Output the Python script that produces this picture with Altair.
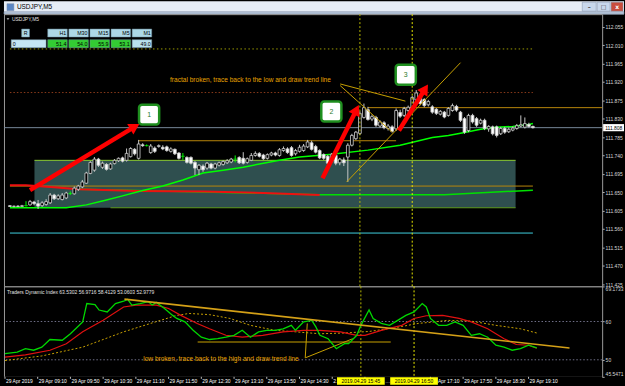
import math
import altair as alt
import pandas as pd

# ---------------- price data: USDJPY M5 bars, bar 0 = 08:30 ----------------
bar_index = list(range(131))
opens = [111.617, 111.615, 111.616, 111.615, 111.617, 111.619, 111.626, 111.622, 111.617, 111.620,
         111.624, 111.643, 111.634, 111.632, 111.636, 111.647, 111.646, 111.657, 111.663, 111.672,
         111.696, 111.704, 111.731, 111.711, 111.718, 111.707, 111.720, 111.727, 111.734, 111.728,
         111.737, 111.755, 111.733, 111.766, 111.764, 111.747, 111.758, 111.762, 111.760, 111.761,
         111.750, 111.755, 111.746, 111.738, 111.735, 111.735, 111.723, 111.705, 111.714, 111.709,
         111.719, 111.709, 111.716, 111.718, 111.722, 111.724, 111.731, 111.735, 111.733, 111.723,
         111.728, 111.740, 111.745, 111.741, 111.733, 111.741, 111.746, 111.740, 111.752, 111.756,
         111.759, 111.744, 111.750, 111.752, 111.761, 111.771, 111.762, 111.752, 111.742, 111.738,
         111.726, 111.740, 111.722, 111.729, 111.736, 111.765, 111.781, 111.794, 111.833, 111.852,
         111.829, 111.833, 111.812, 111.820, 111.806, 111.810, 111.805, 111.845, 111.838, 111.850,
         111.850, 111.876, 111.885, 111.877, 111.864, 111.859, 111.853, 111.841, 111.846, 111.838,
         111.850, 111.860, 111.846, 111.830, 111.801, 111.838, 111.830, 111.819, 111.826, 111.805,
         111.810, 111.810, 111.793, 111.806, 111.798, 111.802, 111.806, 111.812, 111.809, 111.816,
         111.811]
highs = [111.618, 111.617, 111.618, 111.619, 111.628, 111.631, 111.629, 111.631, 111.628, 111.633,
         111.648, 111.646, 111.645, 111.648, 111.651, 111.652, 111.664, 111.668, 111.680, 111.700,
         111.726, 111.736, 111.734, 111.725, 111.721, 111.722, 111.731, 111.735, 111.737, 111.757,
         111.760, 111.758, 111.778, 111.770, 111.767, 111.768, 111.762, 111.767, 111.765, 111.764,
         111.760, 111.757, 111.748, 111.746, 111.738, 111.738, 111.726, 111.719, 111.718, 111.724,
         111.722, 111.722, 111.725, 111.728, 111.731, 111.734, 111.740, 111.738, 111.748, 111.735,
         111.746, 111.750, 111.748, 111.744, 111.745, 111.749, 111.749, 111.758, 111.762, 111.760,
         111.763, 111.756, 111.766, 111.768, 111.778, 111.776, 111.766, 111.755, 111.745, 111.741,
         111.746, 111.743, 111.734, 111.735, 111.770, 111.793, 111.800, 111.848, 111.867, 111.859,
         111.840, 111.837, 111.826, 111.824, 111.817, 111.814, 111.855, 111.852, 111.859, 111.862,
         111.886, 111.900, 111.892, 111.880, 111.876, 111.863, 111.856, 111.851, 111.849, 111.858,
         111.867, 111.864, 111.849, 111.834, 111.842, 111.842, 111.834, 111.830, 111.830, 111.814,
         111.813, 111.813, 111.810, 111.810, 111.808, 111.811, 111.817, 111.838, 111.833, 111.820,
         111.813]
lows = [111.614, 111.613, 111.614, 111.614, 111.615, 111.617, 111.618, 111.609, 111.614, 111.617,
        111.621, 111.631, 111.631, 111.630, 111.633, 111.643, 111.644, 111.653, 111.660, 111.670,
        111.694, 111.700, 111.712, 111.707, 111.703, 111.705, 111.718, 111.724, 111.723, 111.725,
        111.735, 111.740, 111.730, 111.761, 111.762, 111.744, 111.746, 111.759, 111.753, 111.749,
        111.747, 111.741, 111.730, 111.729, 111.720, 111.718, 111.692, 111.692, 111.700, 111.705,
        111.706, 111.706, 111.713, 111.715, 111.719, 111.721, 111.723, 111.719, 111.718, 111.720,
        111.726, 111.737, 111.735, 111.729, 111.730, 111.738, 111.738, 111.737, 111.749, 111.744,
        111.737, 111.740, 111.747, 111.749, 111.758, 111.752, 111.745, 111.731, 111.729, 111.716,
        111.722, 111.716, 111.716, 111.714, 111.675, 111.762, 111.778, 111.790, 111.830, 111.825,
        111.824, 111.810, 111.808, 111.804, 111.801, 111.796, 111.800, 111.832, 111.834, 111.845,
        111.847, 111.872, 111.863, 111.858, 111.860, 111.842, 111.839, 111.838, 111.831, 111.835,
        111.847, 111.847, 111.822, 111.793, 111.797, 111.818, 111.810, 111.816, 111.802, 111.798,
        111.789, 111.784, 111.790, 111.793, 111.795, 111.799, 111.803, 111.809, 111.806, 111.808,
        111.806]
closes = [111.615, 111.616, 111.615, 111.617, 111.617, 111.627, 111.622, 111.616, 111.624, 111.627,
          111.643, 111.634, 111.641, 111.643, 111.648, 111.647, 111.660, 111.665, 111.675, 111.697,
          111.723, 111.731, 111.716, 111.721, 111.706, 111.719, 111.728, 111.733, 111.726, 111.745,
          111.757, 111.744, 111.768, 111.764, 111.764, 111.763, 111.750, 111.764, 111.756, 111.752,
          111.756, 111.744, 111.733, 111.738, 111.723, 111.721, 111.709, 111.716, 111.705, 111.721,
          111.709, 111.719, 111.722, 111.725, 111.727, 111.731, 111.731, 111.722, 111.721, 111.732,
          111.740, 111.745, 111.738, 111.732, 111.742, 111.746, 111.741, 111.754, 111.757, 111.747,
          111.740, 111.752, 111.760, 111.763, 111.773, 111.755, 111.748, 111.734, 111.733, 111.721,
          111.743, 111.721, 111.731, 111.722, 111.765, 111.789, 111.797, 111.843, 111.857, 111.828,
          111.835, 111.814, 111.822, 111.808, 111.812, 111.799, 111.850, 111.836, 111.855, 111.858,
          111.882, 111.893, 111.867, 111.862, 111.872, 111.846, 111.843, 111.848, 111.834, 111.855,
          111.862, 111.851, 111.826, 111.797, 111.838, 111.822, 111.814, 111.826, 111.806, 111.811,
          111.793, 111.789, 111.806, 111.797, 111.804, 111.807, 111.813, 111.815, 111.818, 111.811,
          111.808]

price_ticks = [112.055, 112.010, 111.965, 111.920, 111.875, 111.830, 111.785, 111.740,
               111.695, 111.650, 111.605, 111.560, 111.515, 111.470, 111.425]
last_price = 111.808

# moving averages on the price chart
fast_ma_bars = [0, 14, 19, 24, 28, 33, 38, 43, 48, 53, 58, 63, 67, 72, 80, 89, 97, 105, 109, 113, 117, 121, 125, 129, 130]
fast_ma_vals = [111.612, 111.612, 111.619, 111.631, 111.641, 111.654, 111.665, 111.680, 111.697, 111.704,
                111.711, 111.721, 111.728, 111.736, 111.743, 111.753, 111.765, 111.784, 111.789, 111.796,
                111.804, 111.809, 111.811, 111.816, 111.818]
slow_ma_bars = [17, 29, 77, 108, 130]
slow_ma_vals = [111.657, 111.655, 111.644, 111.644, 111.655]
red_ma_bars = [0, 4, 11, 17, 32, 48, 63, 77]
red_ma_vals = [111.667, 111.667, 111.662, 111.657, 111.653, 111.652, 111.648, 111.643]

# drawn objects on the price chart
box_from, box_to, box_low, box_high = 6.1, 125.7, 111.612, 111.728
box_bottom_from = 25
dotted_high_level = 112.0007
dotted_fractal_level = 111.894
support_level = 111.665
cyan_level = 111.550
upper_res_level, upper_res_from = 111.857, 89
mid_res_level, mid_res_from, mid_res_to = 111.776, 32, 96
lines_end = 130
vline_bars = [87, 100]

trend_from_bar = [82.1, 82.1, 83.7]
trend_from_price = [111.915, 111.911, 111.675]
trend_to_bar = [98.3, 95.0, 112.0]
trend_to_price = [111.873, 111.797, 111.967]

arrow_from_bar = [5.0, 77.7, 96.7]
arrow_from_price = [111.655, 111.684, 111.801]
arrow_to_bar = [32.3, 86.8, 104.0]
arrow_to_price = [111.818, 111.865, 111.915]

step_bars = [34.6, 79.9, 98.4]
step_prices = [111.840, 111.8475, 111.9375]
step_labels = ["1", "2", "3"]

note_top = "fractal broken, trace back to the low and draw trend line"
note_top_bar, note_top_price = 39.8, 111.9253

# multi-timeframe table
tf_names = ["H1", "M30", "M15", "M5", "M1"]
tf_values = ["51.4", "54.0", "55.9", "53.1", "49.0"]

# ---------------- Traders Dynamic Index ----------------
tdi_title = "Traders Dynamic Index 63.5302 56.9716 58.4129 53.0603 52.9779"
tdi_levels = [50, 60]
rsi_bars = [0, 3, 5, 7, 9, 11, 14, 16, 19, 20, 22, 23, 25, 27, 29, 30, 31, 33, 35, 36, 37, 39, 41, 42, 44,
            46, 48, 50, 52, 54, 56, 58, 60, 62, 64, 66, 68, 70, 71, 73, 75, 76, 77, 79, 81, 83, 84, 86, 87,
            89, 90, 92, 94, 96, 98, 100, 102, 103, 104, 106, 108, 110, 112, 114, 116, 118, 120, 122, 124,
            126, 128, 130]
rsi_vals = [51.6, 52.0, 52.9, 52.5, 53.3, 55.3, 55.1, 56.8, 59.9, 64.7, 64.4, 63.0, 62.5, 64.7, 65.3, 65.8,
            64.3, 64.7, 65.2, 64.3, 65.0, 63.4, 61.6, 60.8, 59.9, 57.7, 55.9, 55.3, 55.5, 55.9, 56.4, 57.7,
            55.9, 57.3, 57.7, 57.7, 58.1, 59.0, 57.7, 59.9, 60.3, 58.6, 56.4, 55.5, 52.9, 54.2, 54.2, 56.4,
            59.0, 63.0, 60.8, 59.5, 59.0, 60.3, 61.6, 62.5, 64.7, 63.8, 60.8, 59.0, 59.0, 59.9, 59.0, 56.4,
            56.8, 55.9, 53.8, 53.3, 52.5, 52.9, 53.8, 53.1]
signal_bars = [0, 5, 11, 15, 19, 24, 29, 32, 37, 40, 43, 47, 50, 54, 58, 63, 68, 73, 77, 82, 86, 88, 92,
               97, 100, 103, 107, 111, 114, 118, 122, 125, 128, 130]
signal_vals = [50.7, 51.3, 52.5, 54.2, 57.3, 60.3, 63.8, 64.3, 64.3, 63.4, 61.6, 59.5, 58.1, 56.4, 55.9,
               56.4, 57.3, 57.7, 57.7, 57.3, 56.4, 56.4, 57.7, 59.0, 60.8, 61.5, 61.6, 60.8, 59.9, 58.1,
               55.5, 54.0, 53.8, 53.0]
base_bars = [0, 9, 19, 29, 38, 42, 45, 50, 55, 60, 66, 71, 77, 83, 89, 95, 101, 105, 108, 114, 120, 126, 130]
base_vals = [49.8, 51.0, 53.3, 57.3, 60.3, 61.6, 62.1, 61.8, 60.8, 59.0, 57.7, 57.3, 56.8, 57.0, 57.4,
             58.3, 59.5, 59.9, 60.3, 60.1, 59.0, 58.1, 57.0]
tdi_trend_bars = [29.2, 138.0]
tdi_trend_vals = [65.85, 53.07]
tdi_low_level, tdi_low_from, tdi_low_to = 54.65, 47.1, 94.3
tdi_v_from_bar = [73.9, 73.4]
tdi_v_from_val = [59.5, 50.5]
tdi_v_to_bar = [73.4, 85.0]
tdi_v_to_val = [50.5, 55.5]
note_bottom = "low broken, trace back to the high and draw trend line"
note_bottom_bar, note_bottom_val = 33.8, 50.09

# ---------------- time axis ----------------
tick_bars = [0, 8, 16, 24, 32, 40, 48, 56, 64, 72, 104, 112, 120, 128]
tick_labels = ["29 Apr 2019", "29 Apr 09:10", "29 Apr 09:50", "29 Apr 10:30", "29 Apr 11:10",
               "29 Apr 11:50", "29 Apr 12:30", "29 Apr 13:10", "29 Apr 13:50", "29 Apr 14:30",
               "29 Apr 17:10", "29 Apr 17:50", "29 Apr 18:30", "29 Apr 19:10"]
# labels partly hidden behind the highlighted cursor labels
cut_bar, cut_label = 80, "29 Apr 15:10"
tail_bar, tail_label = 88, "15:50"
hl_labels = ["2019.04.29 15:45", "2019.04.29 16:50"]

# ---------------- layout ----------------
W, H_TITLE, H_MAIN, H_TDI, H_TIME = 602, 13, 274, 91, 8
PX_PER_BAR = 4.117
X_DOM = [-1 / PX_PER_BAR, (W - 1) / PX_PER_BAR]
PRICE_DOM = [111.4194, 112.0859]
PX_PER_PRICE = H_MAIN / (PRICE_DOM[1] - PRICE_DOM[0])
TDI_DOM = [45.5471, 69.1733]
FONT = "Liberation Sans"

XS = alt.Scale(domain=X_DOM, nice=False, zero=False)
YS = alt.Scale(domain=PRICE_DOM, nice=False, zero=False)
YT = alt.Scale(domain=TDI_DOM, nice=False, zero=False)

YAX = alt.Axis(orient="right", values=price_ticks, format=".3f", labelFont=FONT, labelFontSize=5,
               labelColor="#d8d8d8", tickColor="#b0b0b0", tickSize=2, labelPadding=1,
               domain=False, grid=False, title=None)
TAX = alt.Axis(orient="right", values=[TDI_DOM[0], 50, 60, TDI_DOM[1]],
               labelExpr="datum.value == 50 || datum.value == 60 ? format(datum.value, 'd') : format(datum.value, '.4f')",
               labelFont=FONT, labelFontSize=5, labelColor="#d8d8d8", tickColor="#b0b0b0", tickSize=2,
               labelPadding=1, labelFlush=True, domain=False, grid=False, title=None)


def ux(px):  # page pixel -> bar units (for overlay widgets)
    return X_DOM[0] + (px - 1) / PX_PER_BAR


def uy(py):  # page pixel -> price units (for overlay widgets)
    return PRICE_DOM[1] - (py - H_TITLE) / PX_PER_PRICE


def xq(f):
    return alt.X(f"{f}:Q", scale=XS, axis=None)


def yq(f, ys=YS):
    return alt.Y(f"{f}:Q", scale=ys, axis=YAX if ys is YS else TAX)


def seg(x0, y0, x1, y1, color, width=1.0, dash=None, ys=YS):
    df = pd.DataFrame({"x0": x0, "y0": y0, "x1": x1, "y1": y1})
    kw = dict(color=color, strokeWidth=width)
    if dash:
        kw["strokeDash"] = dash
    return alt.Chart(df).mark_rule(**kw).encode(x=xq("x0"), x2="x1:Q", y=yq("y0", ys), y2="y1:Q")


def line(bars, vals, color, width=1.0, dash=None, ys=YS):
    df = pd.DataFrame({"bar": bars, "v": vals})
    kw = dict(color=color, strokeWidth=width)
    if dash:
        kw["strokeDash"] = dash
    return alt.Chart(df).mark_line(**kw).encode(x=xq("bar"), y=yq("v", ys))


def vlines():
    df = pd.DataFrame({"bar": vline_bars, "c": ["#b4b400", "#e6e600"]})
    return alt.Chart(df).mark_rule(strokeWidth=1, strokeDash=[2, 2]).encode(
        x=xq("bar"), color=alt.Color("c:N", scale=None))


# ---------------- main price panel ----------------
cdf = pd.DataFrame({"bar": bar_index, "o": opens, "h": highs, "l": lows, "c": closes})
cdf["lo"] = cdf[["o", "c"]].min(axis=1)
cdf["hi"] = cdf[["o", "c"]].max(axis=1)
cdf["kind"] = ["bull" if c > o else ("bear" if c < o else "doji") for o, c in zip(opens, closes)]

layers = []
# bid line carries the price axis
layers.append(alt.Chart(pd.DataFrame({"p": [last_price]})).mark_rule(color="#778899", strokeWidth=1)
              .encode(y=yq("p")))
layers.append(alt.Chart(pd.DataFrame({"x0": [box_from], "x1": [box_to], "y0": [box_low], "y1": [box_high]}))
              .mark_rect(color="#2f4f4f").encode(x=xq("x0"), x2="x1:Q", y=yq("y0"), y2="y1:Q"))
layers += [
    seg([0], [dotted_high_level], [lines_end], [dotted_high_level], "#9a9a00", 1, [1.5, 2.5]),
    seg([0], [dotted_fractal_level], [lines_end], [dotted_fractal_level], "#8b3a1a", 1, [1.5, 2]),
    seg([0], [support_level], [lines_end], [support_level], "#b8860b", 1),
    seg([0], [cyan_level], [lines_end], [cyan_level], "#40d0e0", 1),
    seg([mid_res_from], [mid_res_level], [mid_res_to], [mid_res_level], "#b8860b", 1),
    seg([box_from], [box_high], [box_to], [box_high], "#8ccd32", 1),
    seg([box_bottom_from], [box_low], [box_to], [box_low], "#5f9a1f", 1.2),
    line(slow_ma_bars, slow_ma_vals, "#00e000", 1.5),
    line(red_ma_bars, red_ma_vals, "#ee1010", 2),
    line(fast_ma_bars, fast_ma_vals, "#00ff00", 1.5),
]
layers.append(alt.Chart(pd.DataFrame({"x0": [upper_res_from], "p": [upper_res_level]}))
              .mark_rule(color="#b8860b", strokeWidth=1)
              .encode(x=xq("x0"), x2=alt.value(W), y=yq("p")))

# candles
wick_scale = alt.Scale(domain=["bull", "bear", "doji"], range=["#c8c8c8", "#c8c8c8", "#00ff00"])
layers.append(alt.Chart(cdf).mark_rule(strokeWidth=1).encode(
    x=xq("bar"), y=yq("l"), y2="h:Q", color=alt.Color("kind:N", scale=wick_scale, legend=None)))
layers.append(alt.Chart(cdf[cdf["kind"] != "doji"]).mark_bar(size=2.8, stroke="#d0d0d0", strokeWidth=0.8).encode(
    x=xq("bar"), y=yq("lo"), y2="hi:Q",
    fill=alt.Fill("kind:N", scale=alt.Scale(domain=["bull", "bear"], range=["#000000", "#ffffff"]), legend=None)))
layers.append(alt.Chart(cdf[cdf["kind"] == "doji"]).mark_tick(orient="horizontal", size=4, thickness=1,
                                                             color="#00ff00").encode(x=xq("bar"), y=yq("c")))

layers.append(vlines())

# trend lines
layers.append(seg(trend_from_bar, trend_from_price, trend_to_bar, trend_to_price, "#c8a000", 1))

# arrows
arows = []
for fb, fp, tb, tp in zip(arrow_from_bar, arrow_from_price, arrow_to_bar, arrow_to_price):
    dx = (tb - fb) * PX_PER_BAR
    dy = (tp - fp) * PX_PER_PRICE
    frac = 6.0 / math.hypot(dx, dy)
    arows.append({"x0": fb, "y0": fp, "x1": tb - (tb - fb) * frac, "y1": tp - (tp - fp) * frac,
                  "ang": math.degrees(math.atan2(dx, dy)) % 360})
adf = pd.DataFrame(arows)
layers.append(alt.Chart(adf).mark_rule(color="#ff0000", strokeWidth=4.5).encode(
    x=xq("x0"), x2="x1:Q", y=yq("y0"), y2="y1:Q"))
layers.append(alt.Chart(adf).mark_point(shape="triangle-up", filled=True, size=150, color="#ff0000", opacity=1).encode(
    x=xq("x1"), y=yq("y1"), angle=alt.Angle("ang:Q", scale=None)))

# numbered boxes
half_w, half_h = 10.3 / PX_PER_BAR, 10.0 / PX_PER_PRICE
sdf = pd.DataFrame({"bar": step_bars, "p": step_prices, "t": step_labels})
sdf["x0"], sdf["x1"] = sdf["bar"] - half_w, sdf["bar"] + half_w
sdf["y0"], sdf["y1"] = sdf["p"] - half_h, sdf["p"] + half_h
layers.append(alt.Chart(sdf).mark_rect(fill="#ffffff", stroke="#1f8f1f", strokeWidth=2.5, cornerRadius=3).encode(
    x=xq("x0"), x2="x1:Q", y=yq("y0"), y2="y1:Q"))
layers.append(alt.Chart(sdf).mark_text(font=FONT, fontSize=7, color="#2a7a2a", baseline="middle").encode(
    x=xq("bar"), y=yq("p"), text="t:N"))

# annotation
layers.append(alt.Chart(pd.DataFrame({"bar": [note_top_bar], "p": [note_top_price], "t": [note_top]}))
              .mark_text(font=FONT, fontSize=6.6, color="#e8a400", align="left", baseline="middle")
              .encode(x=xq("bar"), y=yq("p"), text="t:N"))

# current price tag on the axis
tag_h = 3.6 / PX_PER_PRICE
layers.append(alt.Chart(pd.DataFrame({"y0": [last_price - tag_h], "y1": [last_price + tag_h]}))
              .mark_rect(color="#ffffff").encode(x=alt.value(W + 1), x2=alt.value(W + 22), y=yq("y0"), y2="y1:Q"))
layers.append(alt.Chart(pd.DataFrame({"p": [last_price], "t": [f"{last_price:.3f}"]}))
              .mark_text(font=FONT, fontSize=5, color="#000000", align="left", baseline="middle")
              .encode(x=alt.value(W + 3), y=yq("p"), text="t:N"))

# symbol label
layers.append(alt.Chart(pd.DataFrame({"t": ["USDJPY,M5"]})).mark_text(
    font=FONT, fontSize=5, color="#e0e0e0", align="left", baseline="middle").encode(
    x=alt.value(8), y=alt.value(5), text="t:N"))
layers.append(alt.Chart(pd.DataFrame({"t": ["x"]})).mark_point(
    shape="triangle-down", filled=True, size=8, color="#d0d0d0").encode(x=alt.value(4), y=alt.value(5)))

# multi timeframe table
cells = []
cells.append({"x0": ux(14), "x1": ux(22), "y0": uy(36), "y1": uy(28), "fill": "#add8e6",
              "t": "R", "tx": ux(18), "al": "center"})
cells.append({"x0": ux(3.3), "x1": ux(39), "y0": uy(46.7), "y1": uy(38.7), "fill": "#c4e6f2",
              "t": "0", "tx": ux(5), "al": "left"})
for i, (nm, val) in enumerate(zip(tf_names, tf_values)):
    left = 40.7 + 21.6 * i
    cells.append({"x0": ux(left), "x1": ux(left + 20), "y0": uy(36), "y1": uy(28), "fill": "#add8e6",
                  "t": nm, "tx": ux(left + 19), "al": "right"})
    cells.append({"x0": ux(left), "x1": ux(left + 20), "y0": uy(46.7), "y1": uy(38.7),
                  "fill": "#33cc33" if float(val) > 50 else "#b8e2ee",
                  "t": val, "tx": ux(left + 19), "al": "right"})
tab = pd.DataFrame(cells)
tab["ym"] = (tab["y0"] + tab["y1"]) / 2
layers.append(alt.Chart(tab).mark_rect(stroke="#6f8fa0", strokeWidth=0.5).encode(
    x=xq("x0"), x2="x1:Q", y=yq("y0"), y2="y1:Q", fill=alt.Fill("fill:N", scale=None)))
for al in ["left", "center", "right"]:
    layers.append(alt.Chart(tab[tab["al"] == al]).mark_text(
        font=FONT, fontSize=5.3, color="#000000", align=al, baseline="middle").encode(
        x=xq("tx"), y=yq("ym"), text="t:N"))

main = alt.layer(*layers).properties(
    width=W, height=H_MAIN, view=alt.ViewBackground(fill="#000000", stroke="#9a9a9a", strokeWidth=1))

# ---------------- TDI panel ----------------
tdi_layers = [
    alt.Chart(pd.DataFrame({"v": tdi_levels})).mark_rule(color="#707088", strokeWidth=1, strokeDash=[1.5, 2])
    .encode(y=yq("v", YT)),
    vlines(),
    line(base_bars, base_vals, "#c8a000", 1, [2, 2], YT),
    seg([tdi_low_from], [tdi_low_level], [tdi_low_to], [tdi_low_level], "#c8a000", 1.2, None, YT),
    seg(tdi_v_from_bar, tdi_v_from_val, tdi_v_to_bar, tdi_v_to_val, "#c8a000", 1, None, YT),
    line(signal_bars, signal_vals, "#e01010", 1.2, None, YT),
    line(rsi_bars, rsi_vals, "#00d800", 1.3, None, YT),
    seg([tdi_trend_bars[0]], [tdi_trend_vals[0]], [tdi_trend_bars[1]], [tdi_trend_vals[1]], "#d4a017", 1.6, None, YT),
    alt.Chart(pd.DataFrame({"bar": [note_bottom_bar], "v": [note_bottom_val], "t": [note_bottom]}))
    .mark_text(font=FONT, fontSize=6.6, color="#e8a400", align="left", baseline="middle")
    .encode(x=xq("bar"), y=yq("v", YT), text="t:N"),
    alt.Chart(pd.DataFrame({"t": [tdi_title]})).mark_text(
        font=FONT, fontSize=5, color="#e0e0e0", align="left", baseline="middle").encode(
        x=alt.value(3), y=alt.value(6), text="t:N"),
]
tdi = alt.layer(*tdi_layers).properties(
    width=W, height=H_TDI, view=alt.ViewBackground(fill="#000000", stroke="#9a9a9a", strokeWidth=1))

# ---------------- time strip ----------------
hw = 24 / PX_PER_BAR
tdf = pd.DataFrame({"bar": tick_bars + [cut_bar, tail_bar], "label": tick_labels + [cut_label, tail_label]})
hdf = pd.DataFrame({"bar": vline_bars, "label": hl_labels})
hdf["x0"], hdf["x1"] = hdf["bar"] - hw, hdf["bar"] + hw
text_kw = dict(font=FONT, fontSize=5, color="#ffffff", baseline="middle")
time_strip = alt.layer(
    alt.Chart(tdf).mark_rule(color="#c0c0c0").encode(x=xq("bar"), y=alt.value(0), y2=alt.value(2)),
    alt.Chart(pd.DataFrame({"bar": tick_bars, "label": tick_labels})).mark_text(align="left", dx=1, **text_kw)
    .encode(x=xq("bar"), y=alt.value(4.5), text="label:N"),
    alt.Chart(pd.DataFrame({"bar": [cut_bar], "label": [cut_label]})).mark_text(
        align="left", dx=1, limit=9, ellipsis="", **text_kw)
    .encode(x=xq("bar"), y=alt.value(4.5), text="label:N"),
    alt.Chart(hdf).mark_rect(color="#ffff00").encode(x=xq("x0"), x2="x1:Q", y=alt.value(0.5), y2=alt.value(8)),
    alt.Chart(pd.DataFrame({"bar": [vline_bars[0] + hw], "label": [tail_label]})).mark_text(
        align="left", dx=0.5, limit=7, ellipsis="", **text_kw)
    .encode(x=xq("bar"), y=alt.value(4.5), text="label:N"),
    alt.Chart(hdf).mark_text(font=FONT, fontSize=5, color="#000000", align="center", baseline="middle")
    .encode(x=xq("bar"), y=alt.value(4.5), text="label:N"),
).properties(width=W, height=H_TIME, view=alt.ViewBackground(fill="#000000", strokeWidth=0))

# ---------------- window title bar ----------------
TB_X = alt.Scale(domain=[0, 624], nice=False, zero=False)
TB_Y = alt.Scale(domain=[0, 13], reverse=True, nice=False, zero=False)
chrome = pd.DataFrame({
    "x0": [0, 3, 582, 597, 611], "x1": [624, 10, 596, 610, 623],
    "y0": [10.5, 2.5, 1, 1, 1], "y1": [13, 9.5, 10, 10, 10],
    "c": ["#b4c4d8", "#5a86c4", "#c9d8ec", "#c9d8ec", "#c94c3c"]})
glyphs = pd.DataFrame({"x": [13, 589, 603.5, 617], "y": [6, 6, 6, 5.7],
                       "t": ["USDJPY,M5", "–", "□", "x"],
                       "c": ["#000000", "#404040", "#404040", "#ffffff"],
                       "al": ["left", "center", "center", "center"]})
title_bar = alt.layer(
    alt.Chart(chrome).mark_rect(stroke="#8090a8", strokeWidth=0.5).encode(
        x=alt.X("x0:Q", scale=TB_X, axis=None), x2="x1:Q",
        y=alt.Y("y0:Q", scale=TB_Y, axis=None), y2="y1:Q", fill=alt.Fill("c:N", scale=None)),
    alt.Chart(glyphs[glyphs["al"] == "left"]).mark_text(font=FONT, fontSize=6.5, align="left", baseline="middle").encode(
        x=alt.X("x:Q", scale=TB_X, axis=None), y=alt.Y("y:Q", scale=TB_Y, axis=None),
        text="t:N", color=alt.Color("c:N", scale=None)),
    alt.Chart(glyphs[glyphs["al"] == "center"]).mark_text(font="DejaVu Sans", fontSize=6, align="center",
                                                          baseline="middle", fontWeight="bold").encode(
        x=alt.X("x:Q", scale=TB_X, axis=None), y=alt.Y("y:Q", scale=TB_Y, axis=None),
        text="t:N", color=alt.Color("c:N", scale=None)),
).properties(width=624, height=H_TITLE, view=alt.ViewBackground(fill="#e6edf6", strokeWidth=0))

chart = alt.vconcat(title_bar, main, tdi, time_strip, spacing=0, bounds="flush").properties(
    padding={"left": 1, "top": 0, "right": 0, "bottom": 0}, background="#000000"
).configure_view(strokeWidth=0)

chart.save("out.html", embed_options={"renderer": "svg", "actions": False})
